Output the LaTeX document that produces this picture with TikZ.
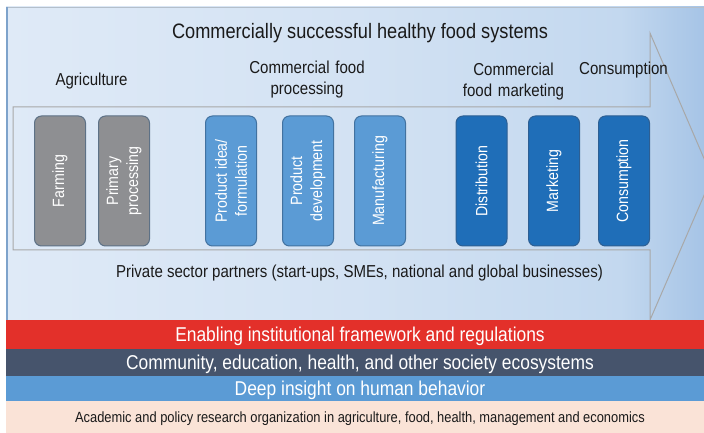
\documentclass[tikz,border=0pt]{standalone}
\usepackage{fontspec}
\setmainfont[FakeStretch=0.87]{Liberation Sans}
\definecolor{bgA}{HTML}{DFEAF7}
\definecolor{bgB}{HTML}{D3E2F3}
\definecolor{bgC}{HTML}{C3D8EF}
\definecolor{bgD}{HTML}{A6C4E6}
\definecolor{edgeline}{HTML}{A8A8A8}
\definecolor{topedge}{HTML}{B4BFCB}
\definecolor{leftedge}{HTML}{7EA3CB}
\definecolor{grayfill}{HTML}{8E8F92}
\definecolor{grayedge}{HTML}{5D7186}
\definecolor{ltfill}{HTML}{5B9BD5}
\definecolor{ltedge}{HTML}{4272A0}
\definecolor{dkfill}{HTML}{1F6EB8}
\definecolor{dkedge}{HTML}{2D5F93}
\definecolor{bandred}{HTML}{E3302A}
\definecolor{bandslate}{HTML}{46546C}
\definecolor{bandblue}{HTML}{5B9BD5}
\definecolor{bandpeach}{HTML}{FAE3D7}
\definecolor{txt}{HTML}{1A1A1A}
\pgfdeclarehorizontalshading{bgshade}{100bp}{color(0bp)=(bgA); color(25bp)=(bgA); color(50bp)=(bgB); color(69bp)=(bgC); color(75bp)=(bgD); color(100bp)=(bgD)}
\begin{document}
\begin{tikzpicture}[x=1bp,y=-1bp,
  lbl/.style={text=txt, inner sep=0pt, font=\fontsize{17.3bp}{21bp}\selectfont},
  capc/.style={text height=#1, text depth=0pt},
  procbox/.style={rotate=90, rounded corners=7bp, line width=1bp, minimum width=130bp,
    minimum height=51bp, inner sep=0pt, text=white, align=center,
    font=\fontsize{16.3bp}{20bp}\selectfont},
  graybox/.style={procbox, fill=grayfill, draw=grayedge},
  ltbox/.style={procbox, fill=ltfill, draw=ltedge},
  dkbox/.style={procbox, fill=dkfill, draw=dkedge},
  band/.style={minimum width=708bp, inner sep=0pt, text height=14.3bp, text depth=0pt,
    font=\fontsize{20bp}{24bp}\selectfont, text=white}
]
\useasboundingbox (0,0) rectangle (704,433);
\fill[white] (0,0) rectangle (704,433);
% background panel
\shade[shading=bgshade] (6,7) rectangle (704,320);
\draw[topedge, line width=1bp] (6,7.5) -- (704,7.5);
\draw[leftedge, line width=1.6bp] (6.8,7) -- (6.8,320);
% big arrow outline
\draw[edgeline, line width=1bp] (13,107) -- (650,107) -- (650,33) -- (712,177)
  -- (650,320) -- (650,250) -- (13,250) -- cycle;
% labels
\node[lbl, capc=15bp, font=\fontsize{20.9bp}{25bp}\selectfont] (title) at (360,31)
  {Commercially successful healthy food systems};
\node[lbl, capc=12.4bp] (agri) at (91.5,79.5) {Agriculture};
\node[lbl, text width=160bp, align=center, anchor=base] (cfp) at (307,74)
  {Commercial food\\processing};
\node[lbl, text width=160bp, align=center, anchor=base] (cfm) at (513.5,76)
  {Commercial\\food marketing};
\node[lbl, capc=12.4bp] (cons) at (623.5,68.5) {Consumption};
% process boxes
\node[graybox] (farm) at (60,181) {Farming};
\node[graybox] (prim) at (124,181) {Primary\\processing};
\node[ltbox] (idea) at (231,181) {Product idea/\\formulation};
\node[ltbox] (dev) at (308,181) {Product\\development};
\node[ltbox] (manu) at (380,181) {Manufacturing};
\node[dkbox] (dist) at (481.5,181) {Distribution};
\node[dkbox] (mark) at (554,181) {Marketing};
\node[dkbox] (consb) at (624,181) {Consumption};
% private sector
\node[lbl, capc=12.4bp] (priv) at (359.5,271)
  {Private sector partners (start-ups, SMEs, national and global businesses)};
% bands
\node[band, fill=bandred, minimum height=29bp] (enab) at (360,334.5)
  {Enabling institutional framework and regulations};
\node[band, fill=bandslate, minimum height=27bp] (comm) at (360,362.5)
  {Community, education, health, and other society ecosystems};
\node[band, fill=bandblue, minimum height=25bp] (deep) at (360,388.5)
  {Deep insight on human behavior};
\node[band, fill=bandpeach, minimum height=32bp, text=txt, text height=10.6bp,
  font=\fontsize{14.8bp}{18bp}\selectfont] (acad) at (360,417)
  {Academic and policy research organization in agriculture, food, health, management and economics};
\end{tikzpicture}
\end{document}
